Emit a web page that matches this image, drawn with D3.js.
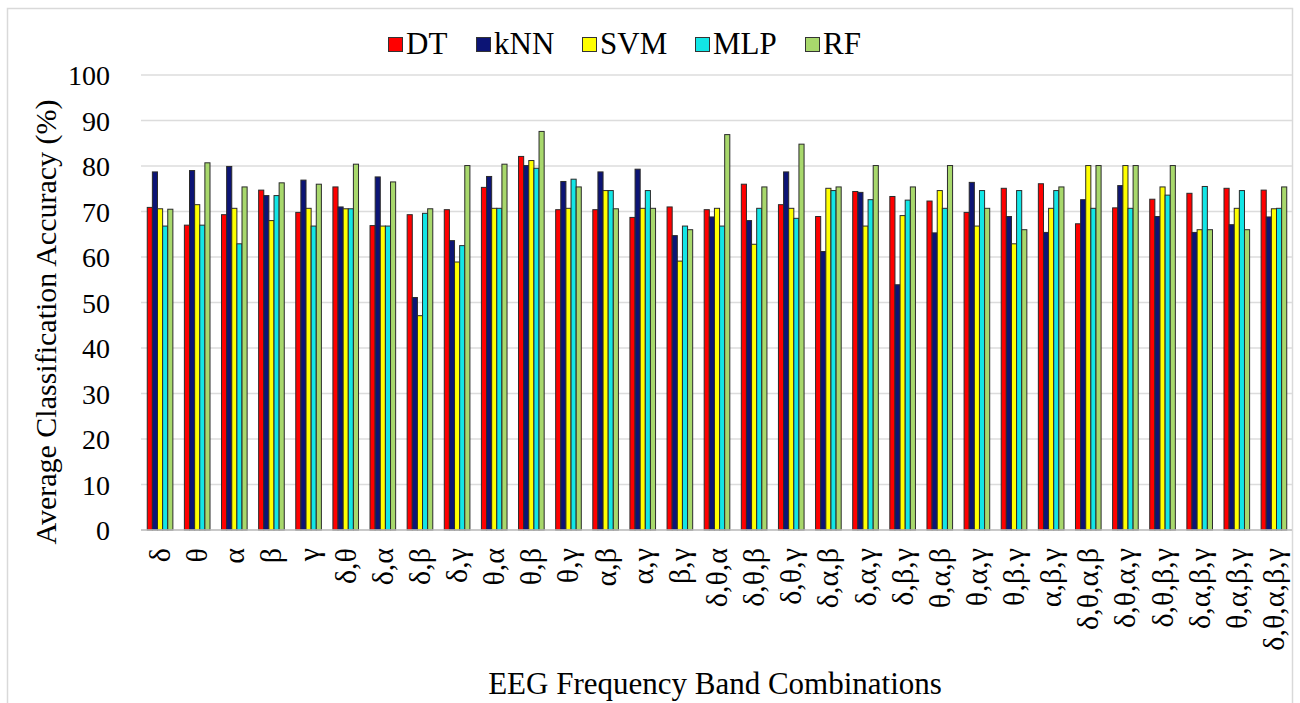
<!DOCTYPE html>
<html>
<head>
<meta charset="utf-8">
<script src="https://cdn.jsdelivr.net/npm/d3@7"></script>
<style>
  html, body { margin: 0; padding: 0; background: #fff; }
  svg { display: block; }
  svg text { font-family: "Liberation Serif", "Times New Roman", Tinos, "DejaVu Serif", serif !important; fill: #000; }
</style>
</head>
<body>
<svg id="chart" width="1300" height="703"></svg>
<script>
const categories = ["δ","θ","α","β","γ","δ,θ","δ,α","δ,β","δ,γ","θ,α","θ,β","θ,γ","α,β","α,γ","β,γ",
  "δ,θ,α","δ,θ,β","δ,θ,γ","δ,α,β","δ,α,γ","δ,β,γ","θ,α,β","θ,α,γ","θ,β.γ","α,β,γ",
  "δ,θ,α,β","δ,θ,α,γ","δ,θ,β,γ","δ,α,β,γ","θ,α,β,γ","δ,θ,α,β,γ"];
const seriesNames = ["DT","kNN","SVM","MLP","RF"];
const DT  = [70.9,67.0,69.3,74.7,69.8,75.4,66.9,69.3,70.4,75.3,82.1,70.4,70.4,68.7,71.0,
             70.4,76.0,71.5,68.9,74.4,73.3,72.3,69.8,75.1,76.1,67.3,70.8,72.7,74.0,75.1,74.7];
const kNN = [78.7,79.0,79.9,73.5,76.9,71.0,77.6,51.1,63.6,77.7,80.1,76.6,78.7,79.3,64.7,
             68.8,68.0,78.7,61.2,74.2,53.9,65.3,76.4,68.9,65.4,72.6,75.7,68.9,65.4,67.1,68.8];
const SVM = [70.6,71.5,70.7,68.0,70.7,70.6,66.8,47.1,58.9,70.7,81.2,70.7,74.6,70.7,59.1,
             70.7,62.8,70.7,75.1,66.8,69.1,74.6,66.8,62.9,70.7,80.1,80.1,75.4,66.0,70.7,70.6];
const MLP = [66.8,67.0,62.9,73.5,66.8,70.6,66.8,69.6,62.5,70.7,79.5,77.1,74.6,74.6,66.8,
             66.8,70.7,68.5,74.6,72.6,72.5,70.7,74.6,74.6,74.6,70.7,70.7,73.6,75.5,74.6,70.7];
const RF  = [70.5,80.7,75.4,76.3,76.0,80.4,76.5,70.6,80.1,80.4,87.6,75.4,70.6,70.7,66.0,
             86.9,75.4,84.8,75.4,80.1,75.4,80.1,70.7,66.0,75.4,80.1,80.1,80.1,66.0,66.0,75.4];
const yTicks = [0,10,20,30,40,50,60,70,80,90,100];
const colors = ["#ff0000","#0c1475","#ffff00","#12e6e6","#a8d86c"];

const seriesValues = [DT, kNN, SVM, MLP, RF];
const svg = d3.select("#chart");

// outer border
svg.append("rect").attr("x", 7.5).attr("y", 8.5).attr("width", 1285).attr("height", 710)
  .attr("fill", "none").attr("stroke", "#d9d9d9").attr("stroke-width", 1.5);

const pLeft = 141, pRight = 1292, pTop = 75, pBottom = 530;
const x = d3.scaleBand().domain(categories).range([pLeft, pRight]).paddingInner(0.31).paddingOuter(0.155);
const xs = d3.scaleBand().domain(seriesNames).range([0, x.bandwidth()]);
const y = d3.scaleLinear().domain([0, 100]).range([pBottom, pTop]);

// gridlines
svg.append("g").selectAll("line").data(yTicks).join("line")
  .attr("x1", pLeft).attr("x2", pRight)
  .attr("y1", d => y(d)).attr("y2", d => y(d))
  .attr("stroke", "#dcdcdc").attr("stroke-width", 1.5);

// y axis tick labels
const yAxis = d3.axisLeft(y).tickValues(yTicks).tickSize(0).tickPadding(0);
const gy = svg.append("g").attr("transform", `translate(${pLeft - 31},0)`).call(yAxis);
gy.select(".domain").remove();
gy.attr("font-family", null).attr("font-size", 28);
gy.selectAll("text").attr("font-size", 28).attr("dy", "0.34em");

// bars
const groups = svg.append("g").selectAll("g").data(categories).join("g")
  .attr("transform", d => `translate(${x(d)},0)`);
groups.selectAll("rect").data((c, i) => seriesNames.map((s, j) => ({s, v: seriesValues[j][i], j})))
  .join("rect")
  .attr("x", d => xs(d.s) + 0.5)
  .attr("width", xs.bandwidth())
  .attr("y", d => y(d.v))
  .attr("height", d => pBottom - y(d.v))
  .attr("fill", d => colors[d.j])
  .attr("stroke", "#2b2b2b").attr("stroke-width", 1);

// x axis line
svg.append("line").attr("x1", pLeft).attr("x2", pRight).attr("y1", pBottom).attr("y2", pBottom)
  .attr("stroke", "#bfbfbf").attr("stroke-width", 1.5);

// x tick labels (rotated)
const xAxis = d3.axisBottom(x).tickSize(0).tickPadding(0);
const gx = svg.append("g").attr("transform", `translate(0,${pBottom})`).call(xAxis);
gx.select(".domain").remove();
gx.attr("font-family", null).attr("font-size", 30);
gx.selectAll("text")
  .attr("font-size", 30)
  .attr("transform", "rotate(-90)")
  .attr("text-anchor", "end")
  .attr("x", -18).attr("y", 0).attr("dy", "0.35em");

// axis titles
svg.append("text").attr("transform", "translate(56,322) rotate(-90)")
  .attr("text-anchor", "middle").attr("font-size", 30).text("Average Classification Accuracy (%)");
svg.append("text").attr("x", 715).attr("y", 694)
  .attr("text-anchor", "middle").attr("font-size", 31).text("EEG Frequency Band Combinations");

// legend
const legendX = [388, 476, 582, 695, 805];
const lg = svg.append("g").selectAll("g").data(seriesNames).join("g")
  .attr("transform", (d, i) => `translate(${legendX[i]},0)`);
lg.append("rect").attr("x", 0.5).attr("y", 37.5).attr("width", 14).attr("height", 14)
  .attr("fill", (d, i) => colors[i]).attr("stroke", "#333").attr("stroke-width", 1);
lg.append("text").attr("x", 18).attr("y", 54).attr("font-size", 31).text(d => d);
</script>
</body>
</html>
